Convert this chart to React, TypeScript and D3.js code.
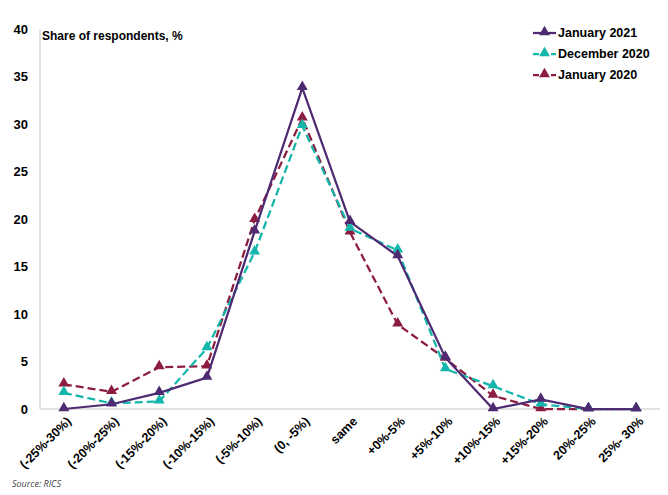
import React from "react";
import * as d3 from "d3";

const categories = ["(-25%-30%)", "(-20%-25%)", "(-15%-20%)", "(-10%-15%)", "(-5%-10%)", "(0, -5%)", "same", "+0%-5%", "+5%-10%", "+10%-15%", "+15%-20%", "20%-25%", "25%- 30%"];
const jan2021 = [0, 0.5, 1.7, 3.3, 18.7, 33.8, 19.7, 16.1, 5.4, 0, 1.0, 0, 0];
const dec2020 = [1.7, 0.6, 0.8, 6.4, 16.5, 29.8, 19.0, 16.7, 4.2, 2.4, 0.5, 0, 0];
const jan2020 = [2.6, 1.8, 4.4, 4.5, 19.9, 30.6, 18.6, 8.9, 5.3, 1.4, 0, 0, 0];
const yTicks = [0, 5, 10, 15, 20, 25, 30, 35, 40];

const seriesList = [
  { name: "January 2021", values: jan2021, color: "#4E2A72", dash: "" },
  { name: "December 2020", values: dec2020, color: "#14B5AA", dash: "8,4" },
  { name: "January 2020", values: jan2020, color: "#8C1D40", dash: "8,4" },
];

const W = 668, H = 495;
const left = 40, right = 660, top = 29, bottom = 409;

export default function App() {
  const x = d3.scaleBand<string>().domain(categories).range([left, right]);
  const y = d3.scaleLinear().domain([0, 40]).range([bottom, top]);
  const cx = (c: string) => (x(c) as number) + x.bandwidth() / 2;
  const line = d3.line<number>().x((_, i) => cx(categories[i])).y((v) => y(v));
  const tri = d3.symbol().type(d3.symbolTriangle).size(52)();
  const drawOrder = [seriesList[2], seriesList[1], seriesList[0]];
  const font = "'Liberation Sans', Arial, sans-serif";
  return (
    <svg width={W} height={H} style={{ position: "absolute", left: 0, top: 0 }} fontFamily={font}>
      <rect x={0} y={0} width={W} height={H} fill="#fff" />
      <line x1={left} x2={left} y1={top} y2={bottom} stroke="#d9d9d9" strokeWidth={1.5} />
      <line x1={left} x2={right} y1={bottom} y2={bottom} stroke="#d9d9d9" strokeWidth={1.5} />
      {yTicks.map((t) => (
        <text key={t} x={28} y={y(t)} dy="0.35em" textAnchor="end" fontSize={13} fontWeight="bold" fill="#000">{t}</text>
      ))}
      <text x={42} y={40} fontSize={12} fontWeight="bold" fill="#000">Share of respondents, %</text>
      {categories.map((c) => (
        <text key={c} transform={`translate(${cx(c) + 5},${bottom + 10}) rotate(-45)`} textAnchor="end" dy="0.35em" fontSize={12.5} fontWeight="bold" fill="#000">{c}</text>
      ))}
      {drawOrder.map((s) => (
        <g key={s.name}>
          <path d={line(s.values) as string} fill="none" stroke={s.color} strokeWidth={2.25} strokeDasharray={s.dash} />
          {s.values.map((v, i) => (
            <path key={i} d={tri as string} transform={`translate(${cx(categories[i])},${y(v) - 1})`} fill={s.color} />
          ))}
        </g>
      ))}
      {seriesList.map((s, i) => {
        const ly = 33 + i * 21;
        return (
          <g key={s.name}>
            <line x1={533} x2={556} y1={ly} y2={ly} stroke={s.color} strokeWidth={2.25} strokeDasharray={s.dash ? "6,3" : ""} />
            <path d={tri as string} transform={`translate(544.5,${ly - 1})`} fill={s.color} />
            <text x={558} y={ly} dy="0.35em" fontSize={12.5} fontWeight="bold" fill="#000">{s.name}</text>
          </g>
        );
      })}
      <text x={12} y={487} fontSize={9} fontStyle="italic" fill="#404040" fontFamily="'Open Sans', sans-serif">Source: RICS</text>
    </svg>
  );
}
